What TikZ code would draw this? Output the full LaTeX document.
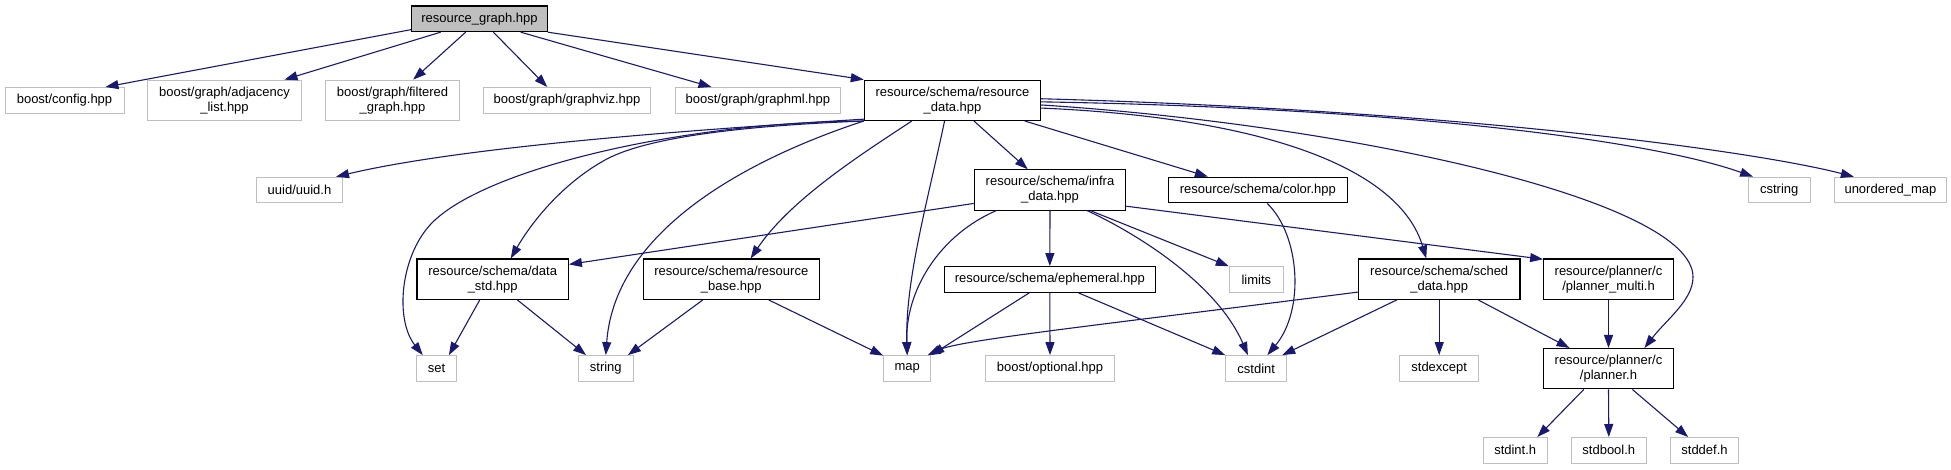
\documentclass[tikz,border=0pt]{standalone}
\usepackage{fontspec}
\newfontfamily\dotfont{Liberation Sans}
\definecolor{edgeblue}{HTML}{191970}
\definecolor{extgray}{HTML}{BFBFBF}
\usetikzlibrary{arrows.meta}

\begin{document}
\begin{tikzpicture}[
    x=1pt, y=-1pt,
    file/.style={rectangle, draw=black, line width=1.15pt, fill=white, inner sep=0pt,
                 minimum height=25.6pt, align=center, font=\dotfont\fontsize{13}{15}\selectfont},
    ext/.style={file, draw=extgray, line width=1pt},
    two/.style={minimum height=40.3pt},
    root/.style={file, fill=extgray},
    inc/.style={-{Triangle[length=13pt,width=9pt]}, draw=edgeblue, line width=1.1pt}
]
    \useasboundingbox (0,0) rectangle (1951,469);

    % rank 0 and 1
    \node[root, minimum width=135.6pt] (graph) at (479.5,18.8) {resource\_graph.hpp};
    \node[ext, minimum width=119pt] (config) at (64.5,100.3) {boost/config.hpp};
    \node[ext, two, minimum width=153.6pt] (adjlist) at (224.5,100.3) {boost/graph/adjacency\\\_list.hpp};
    \node[ext, two, minimum width=133.6pt] (filtered) at (392.5,100.3) {boost/graph/filtered\\\_graph.hpp};
    \node[ext, minimum width=167.4pt] (graphviz) at (567,100.3) {boost/graph/graphviz.hpp};
    \node[ext, minimum width=165.7pt] (graphml) at (757.9,100.3) {boost/graph/graphml.hpp};
    \node[file, two, minimum width=176.3pt] (resdata) at (952.5,100.3) {resource/schema/resource\\\_data.hpp};

    % rank 2
    \node[ext, minimum width=85.6pt] (uuid) at (299.5,190) {uuid/uuid.h};
    \node[file, two, minimum width=151.4pt] (infra) at (1050,190) {resource/schema/infra\\\_data.hpp};
    \node[file, minimum width=179pt] (color) at (1257.8,190) {resource/schema/color.hpp};
    \node[ext, minimum width=61.7pt] (cstring) at (1779.2,190) {cstring};
    \node[ext, minimum width=111.3pt] (umap) at (1890.4,190) {unordered\_map};

    % rank 3
    \node[file, two, minimum width=151.3pt] (datastd) at (492.7,279.2) {resource/schema/data\\\_std.hpp};
    \node[file, two, minimum width=176pt] (resbase) at (731.3,279.2) {resource/schema/resource\\\_base.hpp};
    \node[file, minimum width=211pt] (ephem) at (1049.8,279.5) {resource/schema/ephemeral.hpp};
    \node[ext, minimum width=54pt] (limits) at (1256.3,279.5) {limits};
    \node[file, two, minimum width=161.7pt] (sched) at (1439.2,279.2) {resource/schema/sched\\\_data.hpp};
    \node[file, two, minimum width=129.6pt] (pmulti) at (1608.5,279.2) {resource/planner/c\\/planner\_multi.h};

    % rank 4 and 5
    \node[ext, minimum width=40.4pt] (set) at (436.5,368.4) {set};
    \node[ext, minimum width=55pt] (string) at (605.8,368.4) {string};
    \node[ext, minimum width=47pt] (map) at (907.2,368.4) {map};
    \node[ext, minimum width=128.6pt] (optional) at (1050,368.4) {boost/optional.hpp};
    \node[ext, minimum width=61pt] (cstdint) at (1256.2,368.4) {cstdint};
    \node[ext, minimum width=79pt] (stdexcept) at (1439.2,368.4) {stdexcept};
    \node[file, two, minimum width=129.6pt] (planner) at (1608.5,368.7) {resource/planner/c\\/planner.h};
    \node[ext, minimum width=64.3pt] (stdint) at (1515.2,450.3) {stdint.h};
    \node[ext, minimum width=75pt] (stdbool) at (1608.8,450.3) {stdbool.h};
    \node[ext, minimum width=68.4pt] (stddef) at (1704.5,450.3) {stddef.h};

    \draw[inc] (graph.189) -- (config.18);
    \draw[inc] (graph.199) -- (adjlist.19);
    \draw[inc] (graph.224) -- (filtered.45);
    \draw[inc] (graph.316) -- (graphviz.146);
    \draw[inc] (graph.342) -- (graphml.164);
    \draw[inc] (graph.south east) -- (resdata.north west);

    \draw[inc] (resdata.192) .. controls (720,128) and (470,145) .. (uuid.20);
    \draw[inc] (resdata.south west) .. controls (680,122) and (480,170) .. (430,225)
        .. controls (400,258) and (395,320) .. (set.136);
    \draw[inc] (resdata.south west) .. controls (760,125) and (650,135) .. (605,160)
        .. controls (560,185) and (530,225) .. (datastd.49);
    \draw[inc] (resdata.south west) .. controls (760,155) and (615,225) .. (string.north);
    \draw[inc] (resdata.207) .. controls (860,155) and (790,200) .. (resbase.47);
    \draw[inc] (resdata.249) .. controls (928,200) and (905,280) .. (map.north);
    \draw[inc] (resdata.316) -- (infra.137);
    \draw[inc] (resdata.344) -- (color.165);
    \draw[inc] (resdata.355) .. controls (1270,118) and (1400,170) .. (sched.122);
    \draw[inc] (resdata.357) .. controls (1350,125) and (1693,200) .. (1693,277)
        .. controls (1693,300) and (1667,319) .. (planner.30);
    \draw[inc] (resdata.359) .. controls (1400,108) and (1650,140) .. (cstring.153);
    \draw[inc] (resdata.1) .. controls (1450,110) and (1750,150) .. (umap.160);

    \draw[inc] (infra.190) -- (datastd.11);
    \draw[inc] (infra.201) .. controls (940,235) and (905,290) .. (map.north);
    \draw[inc] (infra.south) -- (ephem.north);
    \draw[inc] (infra.333) -- (limits.north west);
    \draw[inc] (infra.331) .. controls (1150,240) and (1220,290) .. (cstdint.122);
    \draw[inc] (infra.348) -- (pmulti.163);
    \draw[inc] (color.305) .. controls (1300,235) and (1305,310) .. (cstdint.50);

    \draw[inc] (datastd.238) -- (set.47);
    \draw[inc] (datastd.320) -- (string.146);
    \draw[inc] (resbase.216) -- (string.31);
    \draw[inc] (resbase.331) -- (map.152);
    \draw[inc] (ephem.213) -- (map.29);
    \draw[inc] (ephem.south) -- (optional.north);
    \draw[inc] (ephem.335) -- (cstdint.north west);
    \draw[inc] (sched.189) .. controls (1100,325) and (960,340) .. (map.33);
    \draw[inc] (sched.206) -- (cstdint.27);
    \draw[inc] (sched.south) -- (stdexcept.north);
    \draw[inc] (sched.332) -- (planner.152);
    \draw[inc] (pmulti.south) -- (planner.north);

    \draw[inc] (planner.220) -- (stdint.31);
    \draw[inc] (planner.south) -- (stdbool.north);
    \draw[inc] (planner.319) -- (stddef.141);
\end{tikzpicture}
\end{document}
